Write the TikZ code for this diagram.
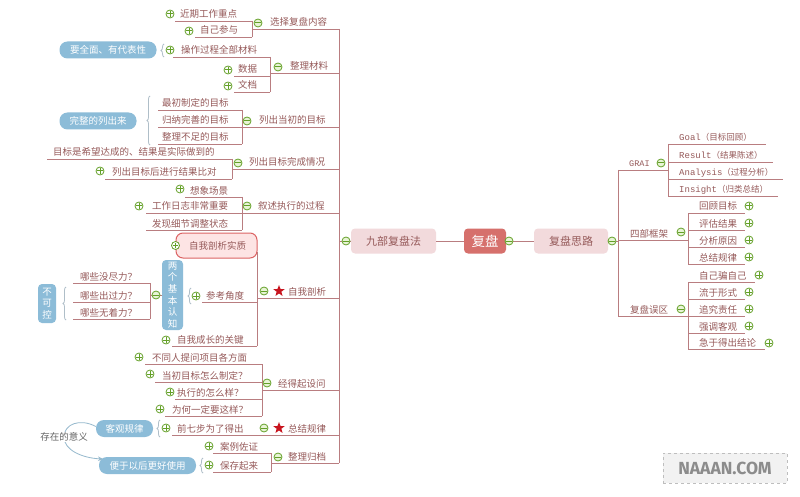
\documentclass[tikz,border=0pt]{standalone}
\usepackage{fontspec}
\setmainfont{Noto Sans CJK SC}
\newfontfamily\monof{Liberation Mono}
\newfontfamily\wmfont{Fira Sans}
\usetikzlibrary{shapes.geometric,decorations.pathreplacing,arrows.meta}
\definecolor{lnc}{RGB}{185,125,128}
\definecolor{txc}{RGB}{150,90,90}
\definecolor{grc}{RGB}{100,160,40}
\definecolor{grf}{RGB}{232,244,214}
\definecolor{blc}{RGB}{140,188,216}
\definecolor{brc}{RGB}{175,190,200}
\definecolor{ctrc}{RGB}{214,112,108}
\definecolor{mainf}{RGB}{242,218,220}
\definecolor{selc}{RGB}{220,100,100}
\definecolor{self}{RGB}{253,228,228}
\definecolor{strc}{RGB}{200,20,30}
\definecolor{relc}{RGB}{150,185,205}
\tikzset{
 ln/.style={draw=lnc, line width=0.8pt},
 txt/.style={text=txc, font=\fontsize{9.5}{11}\selectfont, inner sep=0pt},
 pmc/.style={circle, draw=grc, line width=0.8pt, minimum size=8pt, inner sep=0pt},
 plusc/.style={pmc, fill=white, path picture={\draw[grc, line width=1pt] ([xshift=-2.6pt]path picture bounding box.center) -- ([xshift=2.6pt]path picture bounding box.center) ([yshift=-2.6pt]path picture bounding box.center) -- ([yshift=2.6pt]path picture bounding box.center);}},
 minusc/.style={pmc, fill=grf, path picture={\draw[grc, line width=1pt] ([xshift=-2.6pt]path picture bounding box.center) -- ([xshift=2.6pt]path picture bounding box.center);}},
 pill/.style={fill=blc, rounded corners=8pt, text=white, font=\fontsize{9.5}{11}\selectfont, inner sep=0pt, minimum height=17pt},
 vbox/.style={fill=blc, rounded corners=4pt, text=white, align=center, inner sep=0pt, font=\fontsize{9.5}{11.6}\selectfont},
 bracec/.style={draw=brc, line width=0.8pt, decorate, decoration={brace, amplitude=3pt}},
 mainbox/.style={fill=mainf, rounded corners=4pt, text=txc, minimum height=25pt, inner sep=0pt, font=\fontsize{11}{13}\selectfont},
 starc/.style={star, star points=5, star point ratio=2.4, fill=strc, minimum size=12pt, inner sep=0pt},
 rel/.style={draw=relc, line width=0.8pt},
}
\newcommand\tp[6]{%
 \coordinate (#1-l) at (#2,#4);
 \coordinate (#1-r) at (#3,#4);
 \node[txt, anchor=base west] (#1) at (#5,#4-3) {#6};
 \draw[ln] (#1-l) -- (#1-r);
}
\begin{document}
\begin{tikzpicture}[x=1pt,y=-1pt]
\fill[white] (0,0) rectangle (800,497);
\useasboundingbox (0,0) rectangle (800,497);

% ---------- centre ----------
\node[fill=ctrc, rounded corners=4pt, text=white, minimum width=42pt, minimum height=25pt, inner sep=0pt, font=\fontsize{13.5}{15}\selectfont] (fp) at (485,241) {复盘};
\node[mainbox, minimum width=85pt] (jb) at (393.5,241) {九部复盘法};
\node[mainbox, minimum width=74pt] (sl) at (571,241) {复盘思路};
\coordinate (ljoin) at (339,241);
\coordinate (rjoin) at (618,241);
\draw[ln] (jb) -- (fp);
\draw[ln] (fp) -- (sl);
\draw[ln] (ljoin) -- (jb.west);
\draw[ln] (sl.east) -- (rjoin);

% ---------- right side ----------
\tp{grai}{618}{668}{170}{629}{{\monof\fontsize{8.5}{11}\selectfont GRAI}}
\tp{goal}{668}{766}{144}{679}{{\monof\fontsize{9}{11}\selectfont Goal}{\fontsize{8.5}{11}\selectfont（目标回顾）}}
\tp{res}{668}{773}{162}{679}{{\monof\fontsize{9}{11}\selectfont Result}{\fontsize{8.5}{11}\selectfont（结果陈述）}}
\tp{ana}{668}{783}{179}{679}{{\monof\fontsize{9}{11}\selectfont Analysis}{\fontsize{8.5}{11}\selectfont（过程分析）}}
\tp{ins}{668}{778}{196}{679}{{\monof\fontsize{9}{11}\selectfont Insight}{\fontsize{8.5}{11}\selectfont（归类总结）}}
\draw[ln] (goal-l) -- (ins-l);

\tp{sb}{618}{688}{240}{630}{四部框架}
\tp{hg}{688}{745}{213}{699}{回顾目标}
\tp{pg}{688}{745}{230}{699}{评估结果}
\tp{fx2}{688}{745}{247}{699}{分析原因}
\tp{zg2}{688}{745}{264}{699}{总结规律}
\draw[ln] (hg-l) -- (zg2-l);

\tp{wq}{618}{688}{316}{630}{复盘误区}
\tp{zp}{688}{755}{282}{699}{自己骗自己}
\tp{lx}{688}{745}{299}{699}{流于形式}
\tp{zr}{688}{745}{316}{699}{追究责任}
\tp{qd}{688}{745}{333}{699}{强调客观}
\tp{jy}{688}{765}{349}{699}{急于得出结论}
\draw[ln] (zp-l) -- (jy-l);
\draw[ln] (grai-l) -- (wq-l);

% ---------- left side ----------
\tp{xz}{252}{339}{29}{270}{选择复盘内容}
\tp{jq}{175}{252}{21}{180}{近期工作重点}
\tp{zj}{195}{252}{37}{200}{自己参与}
\draw[ln] (jq-r) -- (zj-r);

\tp{zl}{270}{339}{73}{290}{整理材料}
\tp{cz}{173}{270}{57}{181}{操作过程全部材料}
\tp{sj}{234}{270}{76}{238}{数据}
\tp{wd}{234}{270}{92}{238}{文档}
\draw[ln] (cz-r) -- (wd-r);
\node[pill, minimum width=97pt] (qm) at (108,50) {要全面、有代表性};
\coordinate (qmb1) at (164,57); \coordinate (qmb2) at (164,44);
\draw[bracec] (qmb1) -- (qmb2);

\tp{lc}{242}{339}{127}{259}{列出当初的目标}
\tp{zc}{158}{242}{110}{162}{最初制定的目标}
\tp{gn}{158}{242}{127}{162}{归纳完善的目标}
\tp{zb}{158}{242}{144}{162}{整理不足的目标}
\draw[ln] (zc-r) -- (zb-r);
\node[pill, minimum width=77pt] (wz) at (98,121) {完整的列出来};
\coordinate (wzb1) at (150,145); \coordinate (wzb2) at (150,96);
\draw[bracec] (wzb1) -- (wzb2);

\tp{lm}{232}{339}{169}{249}{列出目标完成情况}
\tp{mb}{47}{232}{159}{53}{目标是希望达成的、结果是实际做到的}
\tp{lh}{105}{232}{179}{112}{列出目标后进行结果比对}
\draw[ln] (mb-r) -- (lh-r);

\tp{xs}{242}{339}{213}{258}{叙述执行的过程}
\tp{xx}{185}{242}{197}{190}{想象场景}
\tp{gz}{146}{242}{213}{152}{工作日志非常重要}
\tp{fxj}{146}{242}{230}{152}{发现细节调整状态}
\draw[ln] (xx-r) -- (fxj-r);

\tp{zw}{257}{339}{298}{288}{自我剖析}
\node[fill=self, draw=selc, line width=1pt, rounded corners=7pt, text=txc, minimum width=81pt, minimum height=25pt, inner sep=0pt, font=\fontsize{9.5}{11}\selectfont] (sz) at (216.5,245.5) {\hspace{2pt}自我剖析实质};
\coordinate (sz-r) at (257,252);
\tp{ck}{202}{257}{302}{206}{参考角度}
\tp{cg}{172}{257}{346}{177}{自我成长的关键}
\draw[ln] (sz-r) -- (cg-r);
\node[vbox, minimum width=21pt, minimum height=70pt] (lg) at (172.5,295) {两\\个\\基\\本\\认\\知};
\coordinate (lgb1) at (191,304); \coordinate (lgb2) at (191,288);
\draw[bracec] (lgb1) -- (lgb2);
\tp{nm}{73}{150}{283}{80}{哪些没尽力？}
\tp{nc}{73}{150}{302}{80}{哪些出过力？}
\tp{nw}{73}{150}{319}{80}{哪些无着力？}
\draw[ln] (nm-r) -- (nw-r);
\coordinate (lgj) at (150,295);
\draw[ln] (lgj) -- (lg.west);
\node[vbox, minimum width=18pt, minimum height=39pt] (bk) at (47,303.5) {不\\可\\控};
\coordinate (bkb1) at (66,320); \coordinate (bkb2) at (66,287);
\draw[bracec] (bkb1) -- (bkb2);

\tp{jd}{262}{339}{390}{278}{经得起设问}
\tp{bt}{145}{262}{364}{152}{不同人提问项目各方面}
\tp{dc}{155}{262}{382}{162}{当初目标怎么制定？}
\tp{zx}{175}{262}{399}{177}{执行的怎么样？}
\tp{wh}{165}{262}{416}{172}{为何一定要这样？}
\draw[ln] (bt-r) -- (wh-r);

\tp{zjl}{258}{339}{435}{288}{总结规律}
\tp{qq}{172}{258}{435}{177}{前七步为了得出}
\node[pill, minimum width=57pt] (kg) at (124.5,428.5) {客观规律};
\coordinate (kgb1) at (160,437); \coordinate (kgb2) at (160,420);
\draw[bracec] (kgb1) -- (kgb2);

\tp{zd}{271}{339}{463}{288}{整理归档}
\tp{al}{213}{271}{453}{220}{案例佐证}
\tp{bc}{213}{271}{472}{220}{保存起来}
\draw[ln] (al-r) -- (bc-r);
\node[pill, minimum width=97pt] (by) at (147.5,465.5) {便于以后更好使用};
\coordinate (byb1) at (203,473); \coordinate (byb2) at (203,458);
\draw[bracec] (byb1) -- (byb2);

\draw[ln] (xz-r) -- (zd-r);

% relationship
\coordinate (relmid) at (64,437);
\coordinate (relend) at (103,459);
\draw[rel] ([yshift=2pt]kg.west) .. controls (80,418) and (64,424) .. (relmid);
\draw[rel, -{Stealth[length=5pt,width=4.5pt]}] (relmid) .. controls (64,450) and (82,458) .. (relend);
\node[fill=white, inner sep=1pt, text={rgb,255:red,100;green,100;blue,100}, font=\fontsize{9.5}{11}\selectfont] (czd) at (relmid) {存在的意义};

% ---------- plus / minus markers ----------
\node[minusc] at (346,241) {};
\node[minusc] at (509,241) {};
\node[minusc] at (612,241) {};
\node[minusc] at (661,163) {};
\node[minusc] at (681,232) {};
\node[minusc] at (681,309) {};
\foreach \yy in {206,223,240,257,292,309,326} {\node[plusc] at (749,\yy) {};}
\node[plusc] at (759,275) {};
\node[plusc] at (769,343) {};

\node[minusc] at (258,23) {};
\node[plusc] at (170,14) {};
\node[plusc] at (189,31) {};
\node[minusc] at (278,67) {};
\node[plusc] at (170,50) {};
\node[plusc] at (228,70) {};
\node[plusc] at (228,86) {};
\node[minusc] at (247,121) {};
\node[minusc] at (238,163) {};
\node[plusc] at (100,171) {};
\node[minusc] at (247,206) {};
\node[plusc] at (180,189) {};
\node[plusc] at (139,206) {};
\node[minusc] at (264,291) {};
\node[starc] at (279,291) {};
\node[plusc] at (sz.west) {};
\node[plusc] at (196,296) {};
\node[plusc] at (166,340) {};
\node[minusc] at (156,295) {};
\node[minusc] at (267,383) {};
\node[plusc] at (139,357) {};
\node[plusc] at (150,374) {};
\node[plusc] at (170,392) {};
\node[plusc] at (160,409) {};
\node[minusc] at (264,428) {};
\node[starc] at (279,428) {};
\node[plusc] at (166,428) {};
\node[minusc] at (278,457) {};
\node[plusc] at (209,446) {};
\node[plusc] at (209,465) {};

% watermark
\node[draw={rgb,255:red,190;green,190;blue,190}, dashed, fill={rgb,255:red,242;green,242;blue,242}, minimum width=124pt, minimum height=30pt, inner sep=0pt, text={rgb,255:red,140;green,140;blue,140}, font=\fontsize{17.5}{19}\selectfont\wmfont\bfseries] (wm) at (725,468) {NAAAN.COM};
\end{tikzpicture}
\end{document}
